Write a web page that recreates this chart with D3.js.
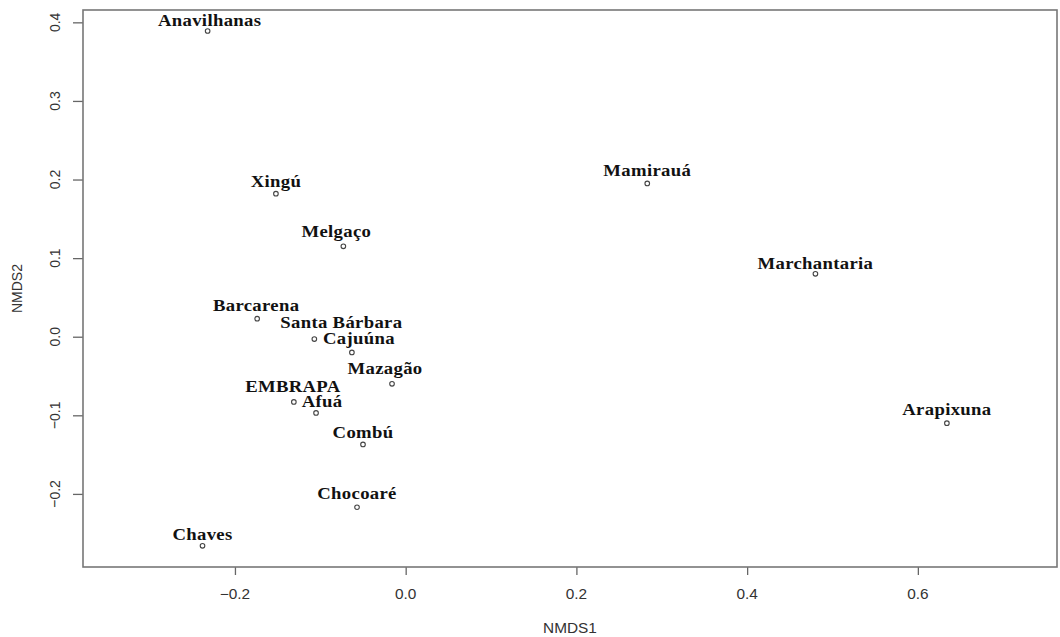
<!DOCTYPE html>
<html>
<head>
<meta charset="utf-8">
<script src="https://cdn.jsdelivr.net/npm/d3@7"></script>
<style>
  body { margin: 0; background: #fff; }
  svg { display: block; }
</style>
</head>
<body>
<div id="chart"></div>
<script>
// NMDS site scores
var sites = ['Anavilhanas', 'Xingú', 'Melgaço', 'Mamirauá', 'Marchantaria', 'Arapixuna',
  'Chocoaré', 'Chaves', 'Barcarena', 'Santa Bárbara', 'Cajuúna', 'Mazagão',
  'EMBRAPA', 'Afuá', 'Combú'];
var nmds1 = [-0.232, -0.152, -0.073, 0.283, 0.480, 0.634,
  -0.057, -0.238, -0.174, -0.107, -0.063, -0.016,
  -0.131, -0.105, -0.050];
var nmds2 = [0.389, 0.182, 0.115, 0.195, 0.080, -0.110,
  -0.217, -0.266, 0.023, -0.003, -0.020, -0.060,
  -0.083, -0.097, -0.137];
var xTicks = [-0.2, 0.0, 0.2, 0.4, 0.6];
var yTicks = [-0.2, -0.1, 0.0, 0.1, 0.2, 0.3, 0.4];

// label nudges in px (text placed by hand in the original)
var labelDx = [2, 0, -7, 0, 0, 0, 0, 0, -1, 27, 7, -7, -1, 6, 0];
var labelDy = [-5, -7, -9, -7, -5, -8, -8, -6, -8, -11, -8, -10, -10, -6, -6];

var width = 1060, height = 637;
var box = {left: 83, right: 1057, top: 10, bottom: 567};
var stretch = 1.1;

var svg = d3.select('#chart').append('svg')
    .attr('width', width)
    .attr('height', height);

var x = d3.scaleLinear()
    .domain([-0.378, 0.763])
    .range([box.left, box.right]);

var y = d3.scaleLinear()
    .domain([-0.293, 0.4157])
    .range([box.bottom, box.top]);

var fmt = d3.format('.1f');

// x axis
var xAxis = svg.append('g')
    .attr('transform', 'translate(0,' + box.bottom + ')')
    .call(d3.axisBottom(x).tickValues(xTicks).tickSize(8).tickFormat(''));
xAxis.select('.domain').remove();
xAxis.selectAll('line').attr('stroke', '#666').attr('stroke-width', 1.3);

svg.append('g').selectAll('text')
    .data(xTicks)
    .enter().append('text')
    .attr('transform', function(d) { return 'translate(' + x(d) + ',599) scale(' + stretch + ',1)'; })
    .attr('text-anchor', 'middle')
    .style('font-family', 'Liberation Sans, Arial, sans-serif')
    .style('font-size', '14px')
    .attr('fill', '#333')
    .text(function(d) { return fmt(d); });

// y axis
var yAxis = svg.append('g')
    .attr('transform', 'translate(' + box.left + ',0)')
    .call(d3.axisLeft(y).tickValues(yTicks).tickSize(10).tickFormat(''));
yAxis.select('.domain').remove();
yAxis.selectAll('line').attr('stroke', '#666').attr('stroke-width', 1.3);

svg.append('g').selectAll('text')
    .data(yTicks)
    .enter().append('text')
    .attr('transform', function(d) { return 'translate(60,' + y(d) + ') scale(' + stretch + ',1) rotate(-90)'; })
    .attr('text-anchor', 'middle')
    .style('font-family', 'Liberation Sans, Arial, sans-serif')
    .style('font-size', '14px')
    .attr('fill', '#333')
    .text(function(d) { return fmt(d); });

// box
svg.append('rect')
    .attr('x', box.left)
    .attr('y', box.top)
    .attr('width', box.right - box.left)
    .attr('height', box.bottom - box.top)
    .attr('fill', 'none')
    .attr('stroke', '#777')
    .attr('stroke-width', 1.6);

// axis titles
svg.append('text')
    .attr('transform', 'translate(' + ((box.left + box.right) / 2) + ',633) scale(' + stretch + ',1)')
    .attr('text-anchor', 'middle')
    .style('font-family', 'Liberation Sans, Arial, sans-serif')
    .style('font-size', '14px')
    .attr('fill', '#333')
    .text('NMDS1');

svg.append('text')
    .attr('transform', 'translate(22,' + ((box.top + box.bottom) / 2) + ') scale(' + stretch + ',1) rotate(-90)')
    .attr('text-anchor', 'middle')
    .style('font-family', 'Liberation Sans, Arial, sans-serif')
    .style('font-size', '14px')
    .attr('fill', '#333')
    .text('NMDS2');

// points
var idx = d3.range(sites.length);

svg.append('g').selectAll('circle')
    .data(idx)
    .enter().append('circle')
    .attr('cx', function(i) { return x(nmds1[i]); })
    .attr('cy', function(i) { return y(nmds2[i]); })
    .attr('r', 2.3)
    .attr('fill', 'none')
    .attr('stroke', '#444')
    .attr('stroke-width', 1.1);

svg.append('g').selectAll('text')
    .data(idx)
    .enter().append('text')
    .attr('transform', function(i) {
      return 'translate(' + (x(nmds1[i]) + labelDx[i]) + ',' + (y(nmds2[i]) + labelDy[i]) + ') scale(' + stretch + ',1)';
    })
    .attr('text-anchor', 'middle')
    .style('font-family', 'Liberation Serif, Times New Roman, serif')
    .style('font-weight', 'bold')
    .style('font-size', '17px')
    .style('letter-spacing', '0.3px')
    .attr('fill', '#111')
    .text(function(i) { return sites[i]; });
</script>
</body>
</html>
